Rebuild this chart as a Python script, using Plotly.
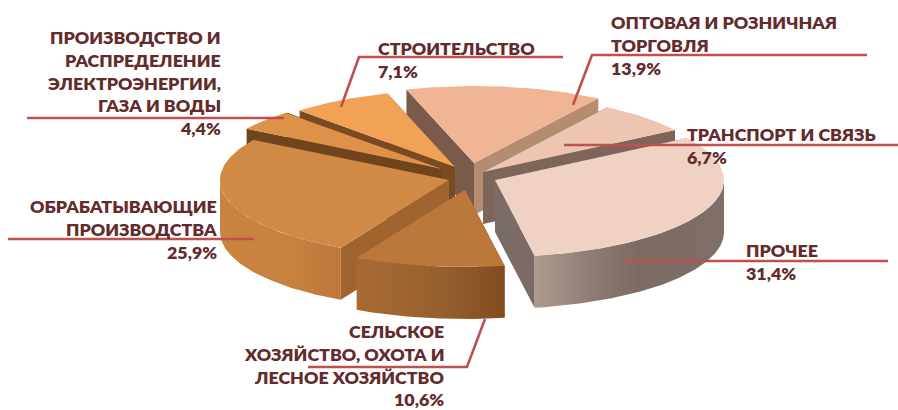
import numpy as np
import plotly.graph_objects as go

# ---- data ----
categories = [
    "ПРОЧЕЕ",
    "ТРАНСПОРТ И СВЯЗЬ",
    "ОПТОВАЯ И РОЗНИЧНАЯ<br>ТОРГОВЛЯ",
    "СТРОИТЕЛЬСТВО",
    "ПРОИЗВОДСТВО И<br>РАСПРЕДЕЛЕНИЕ<br>ЭЛЕКТРОЭНЕРГИИ,<br>ГАЗА И ВОДЫ",
    "ОБРАБАТЫВАЮЩИЕ<br>ПРОИЗВОДСТВА",
    "СЕЛЬСКОЕ<br>ХОЗЯЙСТВО, ОХОТА И<br>ЛЕСНОЕ ХОЗЯЙСТВО",
]
values = [31.4, 6.7, 13.9, 7.1, 4.4, 25.9, 10.6]

# ---- geometry / style (not data) ----
START_ANGLE = -80.04
RX, RY, DEPTH = 229.0, 77.0, 52.0
slice_apex = [(495, 180), (483, 172), (474, 163), (455, 167), (442, 169), (449, 180), (465, 190)]
top_colors = ["#F0D2C5", "#EEC5B1", "#EFB594", "#F2A254", "#DE9249", "#D08A45", "#BC783A"]
low_wall = ["#7C6A66", "#7E6559", "#B58C70", "#744A28", "#6E4219", "#6E4219", "#A96A32"]
high_wall = ["#7C6C68", "#7E6559", "#7A5A48", "#7A4A22", "#70441C", "#A0652F", "#9E6030"]
outer_wall = [
    [[0, "#AD9B8F"], [0.25, "#928177"], [0.55, "#7C6A63"], [1, "#7F6F69"]],
    None, None, None, None,
    [[0, "#CB843F"], [0.6, "#C7823F"], [1, "#BB763A"]],
    [[0, "#A96A32"], [0.55, "#96602E"], [1, "#824C1F"]],
]
draw_order = [2, 1, 0, 3, 4, 5, 6]
label_color = "#632B2B"
leader_color = "#C0504D"
FONT = "Lato"
LINE_STEP = 22.8

label_anchor = [
    (745, 250, "left"), (686, 134, "left"), (610, 22, "left"), (377, 48, "left"),
    (222, 37, "right"), (218, 206, "right"), (445, 331, "right"),
]
leaders = [
    [(624, 261), (888, 261)],
    [(564, 145), (898, 145)],
    [(573, 105), (592, 55), (867, 55)],
    [(341, 107), (359, 57), (563, 57)],
    [(27, 118), (284, 118)],
    [(8, 239), (254, 239)],
    [(485, 319), (467, 367), (308, 367)],
]

# ---- slice angles from the values (counter-clockwise) ----
angles = START_ANGLE + np.concatenate([[0], np.cumsum(values)]) * 3.6


def rim(cx, cy, a0, a1, dy=0.0, n=90):
    t = np.radians(np.linspace(a0, a1, n))
    return cx + RX * np.cos(t), cy - RY * np.sin(t) + dy


fig = go.Figure()


def poly(x, y, color=None, gradient=None):
    kw = dict(fillgradient=dict(type="horizontal", colorscale=gradient)) if gradient else dict(fillcolor=color)
    fig.add_trace(go.Scatter(
        x=list(x) + [x[0]], y=list(y) + [y[0]], mode="lines", fill="toself",
        line=dict(width=0), hoverinfo="skip", showlegend=False, **kw))


for i in draw_order:
    cx, cy = slice_apex[i]
    a0, a1 = angles[i], angles[i + 1]
    # radial walls
    for a, col in ((a0, low_wall[i]), (a1, high_wall[i])):
        ex, ey = rim(cx, cy, a, a, n=1)
        poly([cx, ex[0], ex[0], cx], [cy, ey[0], ey[0] + DEPTH, cy + DEPTH], col)
    # outer wall: only the part of the rim on the front of the pie
    for lo, hi in ((max(a0, -180), min(a1, 0)), (max(a0, 180), min(a1, 360))):
        if hi > lo and outer_wall[i]:
            tx, ty = rim(cx, cy, lo, hi)
            bx, by = rim(cx, cy, hi, lo, dy=DEPTH)
            poly(np.r_[tx, bx], np.r_[ty, by], gradient=outer_wall[i])
    # top face
    tx, ty = rim(cx, cy, a0, a1)
    poly(np.r_[cx, tx], np.r_[cy, ty], top_colors[i])

shapes = []
for pts in leaders:
    path = "M " + " L ".join(f"{x},{y}" for x, y in pts)
    shapes.append(dict(type="path", path=path, xref="x", yref="y",
                       line=dict(color=leader_color, width=2.6), layer="above"))

annotations = []
for name, v, (x, y, align) in zip(categories, values, label_anchor):
    lines = name.split("<br>") + [str(v).replace(".", ",") + "%"]
    for k, line in enumerate(lines):
        annotations.append(dict(
            x=x, y=y + k * LINE_STEP, xref="x", yref="y", xanchor=align, yanchor="middle", align=align,
            showarrow=False, borderpad=0, text=line,
            font=dict(family=FONT, size=17.8, weight=800, color=label_color)))

fig.update_layout(
    width=898, height=410, margin=dict(l=0, r=0, t=0, b=0),
    paper_bgcolor="white", plot_bgcolor="white", showlegend=False,
    xaxis=dict(range=[0, 898], visible=False, fixedrange=True),
    yaxis=dict(range=[410, 0], visible=False, fixedrange=True),
    shapes=shapes, annotations=annotations,
)
fig.write_html("out.html", config=dict(displayModeBar=False),
               post_script="document.body.style.margin='0';document.body.style.overflow='hidden';")
